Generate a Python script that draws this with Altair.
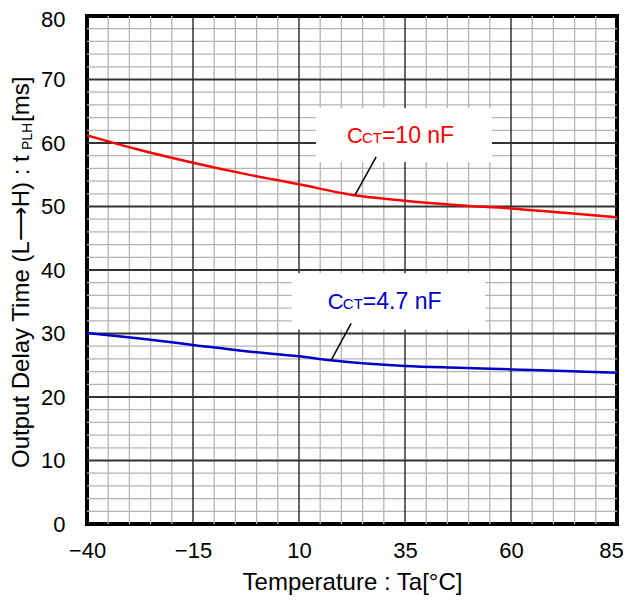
import altair as alt
import pandas as pd

# ---- data ----
temps_red = [-40, -27.5, -15, -2.5, 10, 22, 35, 47.5, 60, 72.5, 85]
vals_red = [61.2, 58.9, 56.9, 55.1, 53.5, 51.9, 50.9, 50.2, 49.7, 49.0, 48.3]
temps_blue = [-40, -27.5, -15, -2.5, 10, 17.5, 35, 47.5, 60, 72.5, 85]
vals_blue = [30.1, 29.2, 28.2, 27.2, 26.4, 25.8, 24.9, 24.6, 24.35, 24.1, 23.8]

x_ticks = [-40, -15, 10, 35, 60, 85]
y_ticks = [0, 10, 20, 30, 40, 50, 60, 70, 80]
x_major = [-15, 10, 35, 60]
x_minor = [-35, -30, -25, -20, -10, -5, 0, 5, 15, 20, 25, 30, 40, 45, 50, 55, 65, 70, 75, 80]
y_major = [10, 20, 30, 40, 50, 60, 70]
y_minor = [v for v in range(2, 80, 2) if v % 10 != 0]

# annotation boxes (data units)
box_x = [14.0, 8.3]
box_x2 = [55.5, 53.9]
box_y = [57.0, 30.6]
box_y2 = [65.5, 39.5]
# leader lines
lead_x = [28.2, 22.3]
lead_y = [57.8, 31.6]
lead_x2 = [23.2, 17.5]
lead_y2 = [51.8, 25.7]
# label pieces
lab_series = ["10 nF", "4.7 nF"]
lab_x = [21.3, 16.8]
lab_y = [60.0, 33.8]
lab_rest = ["=10 nF", "=4.7 nF"]

RED = "#ff0000"
BLUE = "#0000c8"
FONT = "Liberation Sans"

curves = pd.concat([
    pd.DataFrame({"t": temps_red, "v": vals_red, "s": "10 nF"}),
    pd.DataFrame({"t": temps_blue, "v": vals_blue, "s": "4.7 nF"}),
])

xs = alt.Scale(domain=[-40, 85], nice=False, zero=False)
ys = alt.Scale(domain=[0, 80], nice=False, zero=False)

base_axis_x = alt.Axis(values=x_ticks, grid=False, domain=False, ticks=False, tickSize=0,
                       labelFontSize=22, labelPadding=16, labelColor="black",
                       labelOffset={"condition": {"test": "datum.value === 85", "value": -6}, "value": 0},
                       title="Temperature : Ta[°C]", titleFontSize=24, titleFontWeight="normal",
                       titleColor="black", titlePadding=9, labelFlush=False)
base_axis_y = alt.Axis(values=y_ticks, grid=False, domain=False, ticks=False, tickSize=0,
                       labelFontSize=22, labelPadding=22, labelColor="black", title="",
                       labelOffset={"condition": {"test": "datum.value === 80", "value": 3}, "value": 0},
                       labelFlush=False)

minor_v = alt.Chart(pd.DataFrame({"x": x_minor})).mark_rule(color="#b4b4b4", strokeWidth=1.3).encode(
    x=alt.X("x:Q", scale=xs, axis=base_axis_x))
minor_h = alt.Chart(pd.DataFrame({"y": y_minor})).mark_rule(color="#b4b4b4", strokeWidth=1.3).encode(
    y=alt.Y("y:Q", scale=ys, axis=base_axis_y))
major_v = alt.Chart(pd.DataFrame({"x": x_major})).mark_rule(color="black", strokeWidth=1.2).encode(
    x=alt.X("x:Q", scale=xs))
major_h = alt.Chart(pd.DataFrame({"y": y_major})).mark_rule(color="#333333", strokeWidth=1.8).encode(
    y=alt.Y("y:Q", scale=ys))

color_scale = alt.Scale(domain=["10 nF", "4.7 nF"], range=[RED, BLUE])

lines = alt.Chart(curves).mark_line(strokeWidth=2.5, interpolate="monotone").encode(
    x=alt.X("t:Q", scale=xs), y=alt.Y("v:Q", scale=ys),
    color=alt.Color("s:N", scale=color_scale, legend=None))

ann = pd.DataFrame({"s": lab_series, "bx": box_x, "bx2": box_x2, "by": box_y, "by2": box_y2,
                    "lx": lead_x, "ly": lead_y, "lx2": lead_x2, "ly2": lead_y2,
                    "tx": lab_x, "ty": lab_y, "rest": lab_rest})

boxes = alt.Chart(ann).mark_rect(fill="white").encode(
    x=alt.X("bx:Q", scale=xs), x2="bx2", y=alt.Y("by:Q", scale=ys), y2="by2")
leaders = alt.Chart(ann).mark_rule(color="black", strokeWidth=1.5).encode(
    x=alt.X("lx:Q", scale=xs), x2="lx2", y=alt.Y("ly:Q", scale=ys), y2="ly2")
t_c = alt.Chart(ann).mark_text(text="C", fontSize=22, font=FONT, align="left", baseline="alphabetic").encode(
    x=alt.X("tx:Q", scale=xs), y=alt.Y("ty:Q", scale=ys),
    color=alt.Color("s:N", scale=color_scale, legend=None))
t_ct = alt.Chart(ann).mark_text(text="CT", fontSize=15, font=FONT, align="left", baseline="alphabetic", dx=15).encode(
    x=alt.X("tx:Q", scale=xs), y=alt.Y("ty:Q", scale=ys),
    color=alt.Color("s:N", scale=color_scale, legend=None))
t_rest = alt.Chart(ann).mark_text(fontSize=23, font=FONT, align="left", baseline="alphabetic", dx=35).encode(
    x=alt.X("tx:Q", scale=xs), y=alt.Y("ty:Q", scale=ys), text="rest:N",
    color=alt.Color("s:N", scale=color_scale, legend=None))

ytitle = pd.DataFrame({"a": [0]})
yt_main = alt.Chart(ytitle).mark_text(text="Output Delay Time (L⟶H) : t", fontSize=24, font=FONT,
                                      angle=270, align="left", baseline="middle", color="black").encode(
    x=alt.value(-65), y=alt.value(452))
yt_sub = alt.Chart(ytitle).mark_text(text="PLH", fontSize=14, font=FONT,
                                     angle=270, align="left", baseline="middle", color="black").encode(
    x=alt.value(-59), y=alt.value(134))
yt_end = alt.Chart(ytitle).mark_text(text="[ms]", fontSize=24, font=FONT,
                                     angle=270, align="left", baseline="middle", color="black").encode(
    x=alt.value(-65), y=alt.value(106))

chart = alt.layer(minor_v, minor_h, major_v, major_h, lines, boxes, leaders, t_c, t_ct, t_rest,
                  yt_main, yt_sub, yt_end).properties(
    width=530, height=508,
    autosize=alt.AutoSizeParams(type="none"),
    padding={"left": 79, "top": 8, "right": 7, "bottom": 74},
).configure(font=FONT).configure_view(stroke="black", strokeWidth=4).configure_axis(
    labelFont=FONT, titleFont=FONT)

chart.save("out.html", embed_options={"renderer": "svg", "actions": False})
